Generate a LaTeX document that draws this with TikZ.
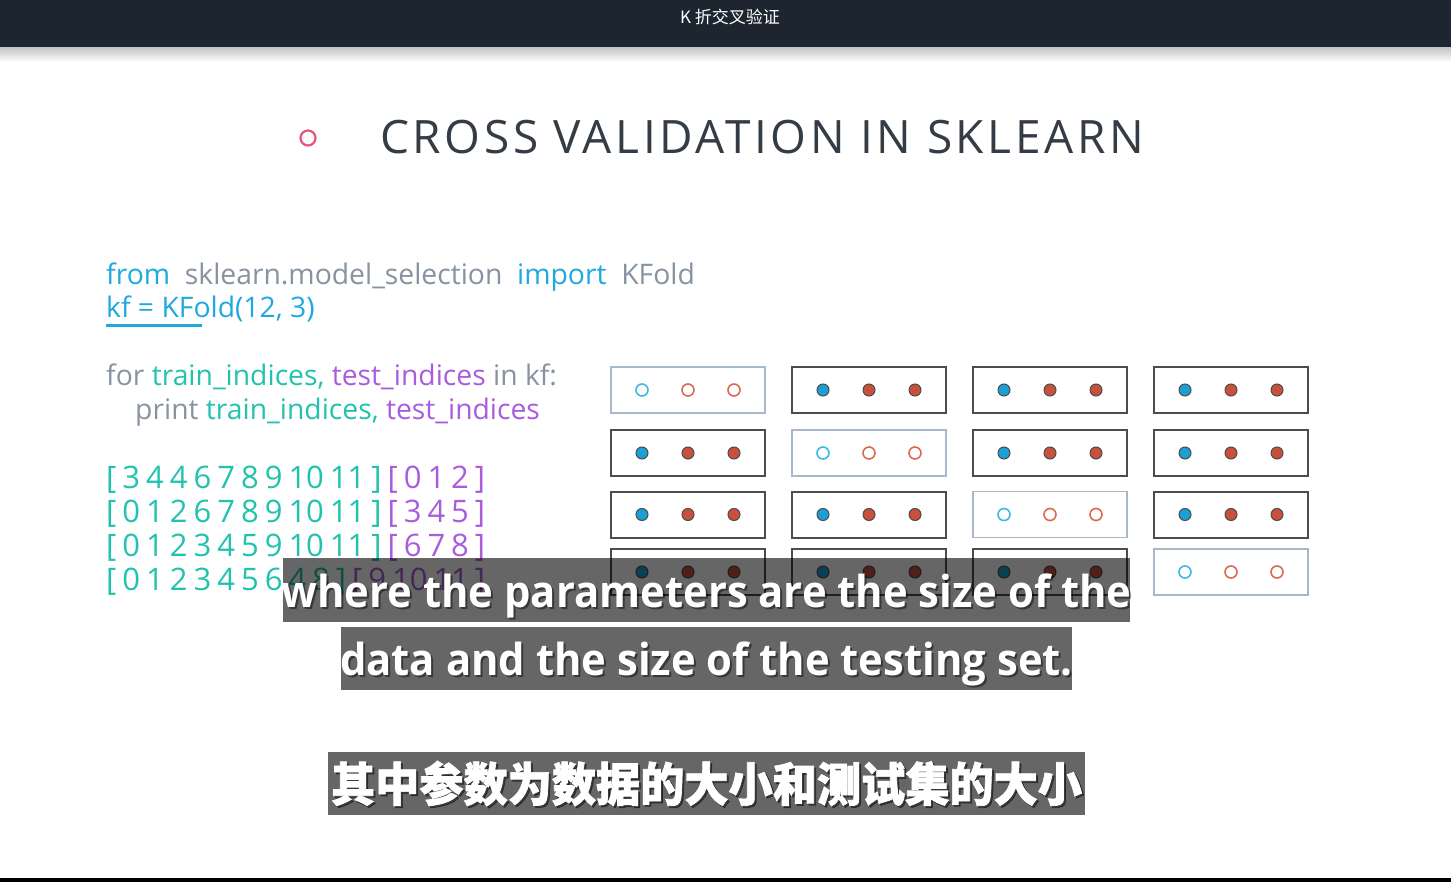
\documentclass[tikz,border=0pt]{standalone}
\usepackage{fontspec}
\setmainfont{Open Sans}
\newfontfamily\cjk[BoldFeatures={FakeBold=1.5}]{Noto Sans CJK SC}
\newfontfamily\titlefont[LetterSpace=7.8]{Open Sans}
\usetikzlibrary{positioning}
\definecolor{barbg}{HTML}{1D2630}
\definecolor{titlegray}{HTML}{343C46}
\definecolor{dotpink}{HTML}{E8557C}
\definecolor{kwblue}{HTML}{1FA9DF}
\definecolor{codegray}{HTML}{8793A0}
\definecolor{trteal}{HTML}{22C3AE}
\definecolor{tepurple}{HTML}{A95DDD}
\definecolor{frameg}{HTML}{4A4D52}
\definecolor{framet}{HTML}{A8B7C9}
\definecolor{trainblue}{HTML}{1AA0D4}
\definecolor{trainred}{HTML}{C9513C}
\definecolor{testblue}{HTML}{3DB9E6}
\definecolor{testred}{HTML}{DA6A54}
\newcommand\foldout[2]{\spaceskip=6pt\relax\textcolor{trteal}{#1} \textcolor{tepurple}{#2}}
\tikzset{
  fold/.style={draw=frameg, line width=2pt, minimum width=154pt, minimum height=46pt, inner sep=0pt},
  testfold/.style={fold, draw=framet, line width=1.6pt},
  fulldot/.style={circle, inner sep=0pt, minimum size=12pt, line width=1pt},
  hollowdot/.style={circle, inner sep=0pt, minimum size=12pt, line width=1.6pt},
  code/.style={anchor=base west, inner sep=0pt, font=\fontsize{28.3}{28.3}\selectfont},
  outline/.style={anchor=base west, inner sep=0pt, font=\fontsize{31}{31}\selectfont},
  subbox/.style={fill=black, fill opacity=0.6, inner sep=0pt},
  subtext/.style={anchor=base, inner sep=0pt, xscale=0.95, text=white, font=\fontsize{44}{44}\selectfont\bfseries},
  subshadow/.style={subtext, text=black, text opacity=0.45}
}
\begin{document}
\begin{tikzpicture}[x=1pt, y=-1pt]
  \useasboundingbox (0,0) rectangle (1451,882);
  \fill[white] (0,0) rectangle (1451,882);
  % top bar
  \fill[barbg] (0,0) rectangle (1451,48);
  \shade[top color=black!22, bottom color=white] (0,48) rectangle (1451,62);
  \node[text=white, font=\cjk\fontsize{17}{17}\selectfont] (bar) at (730,17) {K 折交叉验证};
  \fill[black] (0,878) rectangle (1451,882);

  % heading
  \node[circle, draw=dotpink, line width=2.2pt, minimum size=15pt, inner sep=0pt] (bullet) at (308,138) {};
  \node[anchor=base west, inner sep=0pt, text=titlegray, font=\titlefont\fontsize{46}{46}\selectfont] (head) at (380,154) {CROSS VALIDATION IN SKLEARN};

  % code
  \node[code] (imp) at (106,285) {\textcolor{kwblue}{from}\ \ \textcolor{codegray}{sklearn.model\_selection}\ \ \textcolor{kwblue}{import}\ \ \textcolor{codegray}{KFold}};
  \node[code, text=kwblue] (kf) at (106,318) {kf = KFold(12, 3)};
  \draw[kwblue, line width=3pt] (106,326) -- (202,326);
  \node[code] (loop) at (106,386) {\textcolor{codegray}{for} \textcolor{trteal}{train\_indices,} \textcolor{tepurple}{test\_indices} \textcolor{codegray}{in kf:}};
  \node[code] (prt) at (135,420) {\textcolor{codegray}{print} \textcolor{trteal}{train\_indices,} \textcolor{tepurple}{test\_indices}};

  % printed folds
  \node[outline] (out1) at (106,488) {\foldout{[ 3 4 4 6 7 8 9 10 11 ]}{[ 0 1 2 ]}};
  \node[outline] (out2) at (106,522) {\foldout{[ 0 1 2 6 7 8 9 10 11 ]}{[ 3 4 5 ]}};
  \node[outline] (out3) at (106,556) {\foldout{[ 0 1 2 3 4 5 9 10 11 ]}{[ 6 7 8 ]}};
  \node[outline] (out4) at (106,590) {\foldout{[ 0 1 2 3 4 5 6 4 8 ]}{[ 9 10 11 ]}};

  % fold grid
  \foreach \r/\yy in {1/390,2/453,3/514.5,4/572}{
    \foreach \c/\xx in {1/688,2/869,3/1050,4/1231}{
      \ifnum\r=\c
        \node[testfold] (f\r\c) at (\xx,\yy) {};
        \node[hollowdot, draw=testblue] (d\r\c a) at ([xshift=-46pt]f\r\c.center) {};
        \node[hollowdot, draw=testred] (d\r\c b) at (f\r\c.center) {};
        \node[hollowdot, draw=testred] (d\r\c c) at ([xshift=46pt]f\r\c.center) {};
      \else
        \node[fold] (f\r\c) at (\xx,\yy) {};
        \node[fulldot, fill=trainblue, draw=black!70] (d\r\c a) at ([xshift=-46pt]f\r\c.center) {};
        \node[fulldot, fill=trainred, draw=black!70] (d\r\c b) at (f\r\c.center) {};
        \node[fulldot, fill=trainred, draw=black!70] (d\r\c c) at ([xshift=46pt]f\r\c.center) {};
      \fi
    }
  }

  % subtitles
  \node[subbox, minimum width=847pt, minimum height=64pt] (sub1) at (706.5,590) {};
  \node[subshadow] at ([shift={(2,19)}]sub1.center) {where the parameters are the size of the};
  \node[subtext] (txt1) at ([yshift=-17pt]sub1.center) {where the parameters are the size of the};
  \node[subbox, minimum width=731pt, minimum height=63pt] (sub2) at (706.5,658.5) {};
  \node[subshadow] at ([shift={(2,19)}]sub2.center) {data and the size of the testing set.};
  \node[subtext] (txt2) at ([yshift=-17pt]sub2.center) {data and the size of the testing set.};
  \node[subbox, minimum width=757pt, minimum height=63pt] (sub3) at (706.5,783.5) {};
  \node[subshadow, anchor=center, xscale=1, font=\cjk\bfseries\fontsize{46.5}{46.5}\selectfont] at ([shift={(2,2)}]sub3.center) {其中参数为数据的大小和测试集的大小};
  \node[subtext, anchor=center, xscale=1, font=\cjk\bfseries\fontsize{46.5}{46.5}\selectfont] (txt3) at (sub3.center) {其中参数为数据的大小和测试集的大小};
\end{tikzpicture}
\end{document}
